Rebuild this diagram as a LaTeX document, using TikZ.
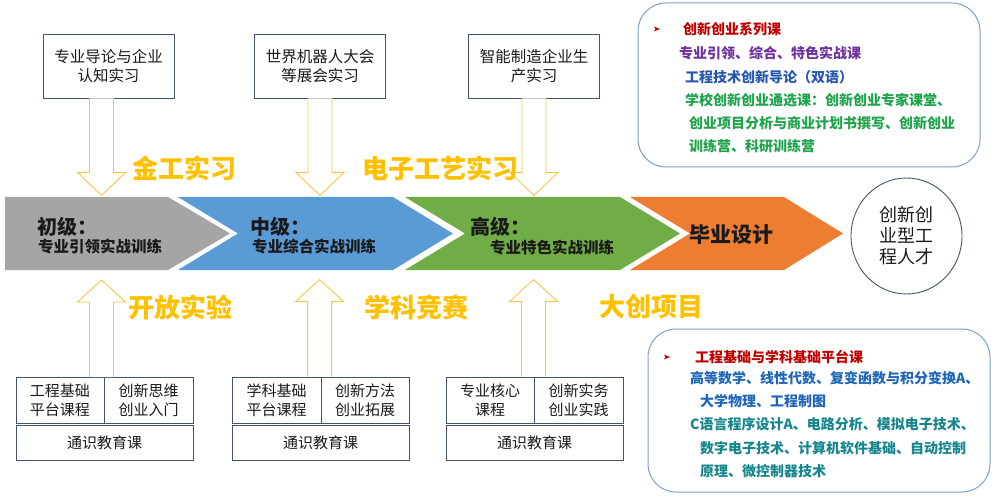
\documentclass[tikz,border=0pt]{standalone}
\usepackage{fontspec}
\setmainfont{Noto Sans CJK SC}
\usetikzlibrary{calc,shapes.geometric}
\definecolor{gold}{HTML}{FFC000}
\definecolor{arrowgold}{HTML}{F2C84B}
\definecolor{boxline}{HTML}{44546A}
\definecolor{rbline}{HTML}{7F9FC6}
\definecolor{cgray}{HTML}{A5A5A5}
\definecolor{cblue}{HTML}{5B9BD5}
\definecolor{cgreen}{HTML}{70AD47}
\definecolor{corange}{HTML}{ED7D31}
\definecolor{dred}{HTML}{C00000}
\definecolor{purp}{HTML}{7030A0}
\definecolor{tblue}{HTML}{2457B0}
\definecolor{tgreen}{HTML}{1FA34A}
\definecolor{bblue}{HTML}{1F66B8}
\definecolor{teal}{HTML}{16868E}
\definecolor{txt}{HTML}{1A1A1A}
\tikzset{
  tbox/.style={draw=boxline, line width=0.9pt, fill=white, minimum width=131pt, minimum height=64pt,
    align=center, inner sep=0pt, text=txt, font=\fontsize{15.5}{19}\selectfont},
  cell/.style={draw=boxline, line width=0.9pt, fill=white, minimum height=46pt,
    align=center, inner sep=0pt, text=txt, font=\fontsize{15}{19}\selectfont},
  gcell/.style={draw=boxline, line width=0.9pt, fill=white, minimum height=35pt, minimum width=177pt,
    align=center, inner sep=0pt, text=txt, font=\fontsize{15}{19}\selectfont},
  barrow/.style={draw=arrowgold, line width=0.9pt, fill=white, line join=miter},
  goldlbl/.style={text=gold, inner sep=0pt, font=\fontsize{26}{30}\selectfont\bfseries},
  lvl/.style={anchor=west, inner sep=0pt, text=txt, font=\fontsize{20}{24}\selectfont\bfseries},
  lvlsub/.style={anchor=west, inner sep=0pt, text=txt, font=\fontsize{15.5}{19}\selectfont\bfseries},
  rbox/.style={draw=rbline, line width=1pt, rounded corners=28pt, fill=white, inner sep=0pt},
  rline/.style={anchor=west, inner sep=0pt, font=\fontsize{14}{17}\selectfont\bfseries},
  bullet/.style={fill=dred, draw=none},
}
\begin{document}
\begin{tikzpicture}[x=1pt,y=-1pt]
\useasboundingbox (0,0) rectangle (997,500);

% chevrons
\fill[cgray] (5,197) -- (168,197) -- (230,233.5) -- (168,270) -- (5,270) -- cycle;
\fill[cblue] (178,197) -- (393,197) -- (453,233.5) -- (393,270) -- (178,270) -- (238,233.5) -- cycle;
\fill[cgreen] (405,197) -- (620,197) -- (680,233.5) -- (620,270) -- (405,270) -- (465,233.5) -- cycle;
\fill[corange] (630,197) -- (784,197) -- (843,233.5) -- (784,270) -- (630,270) -- (690,233.5) -- cycle;

\node[lvl] (l1) at (37,227) {初级：};
\node[lvlsub] (l1s) at (38,247) {专业引领实战训练};
\node[lvl] (l2) at (250,227) {中级：};
\node[lvlsub] (l2s) at (252,247) {专业综合实战训练};
\node[lvl] (l3) at (470,227) {高级：};
\node[lvlsub] (l3s) at (490,248) {专业特色实战训练};
\node[inner sep=0pt, text=txt, font=\fontsize{21}{25}\selectfont\bfseries] (l4) at (731,235) {毕业设计};

% goal ellipse
\node[ellipse, draw=boxline, line width=0.9pt, minimum width=111pt, minimum height=116pt,
  align=center, inner sep=0pt, text=txt, font=\fontsize{18}{21}\selectfont] (goal) at (906.5,236) {创新创\\业型工\\程人才};

% top boxes
\node[tbox] (t1) at (108.5,66) {专业导论与企业\\认知实习};
\node[tbox] (t2) at (320,66) {世界机器人大会\\等展会实习};
\node[tbox] (t3) at (534,66) {智能制造企业生\\产实习};

% top arrows
\draw[barrow] ($(t1.south)+(-19,0)$) -- ++(0,74) -- ++(-12,0) -- ++(24,23) -- ++(24,-23) -- ++(-12,0) -- ++(0,-74);
\draw[barrow] ($(t2.south)+(-12,0)$) -- ++(0,74) -- ++(-12,0) -- ++(24,23) -- ++(24,-23) -- ++(-12,0) -- ++(0,-74);
\draw[barrow] ($(t3.south)+(-12,0)$) -- ++(0,74) -- ++(-12,0) -- ++(24,23) -- ++(24,-23) -- ++(-12,0) -- ++(0,-74);

% gold labels
\node[goldlbl] (g1) at (184.5,168) {金工实习};
\node[goldlbl] (g2) at (440,168) {电子工艺实习};
\node[goldlbl] (g3) at (180.5,307) {开放实验};
\node[goldlbl] (g4) at (416.5,307) {学科竞赛};
\node[goldlbl] (g5) at (651.5,307) {大创项目};

% bottom boxes
\node[cell, minimum width=88pt] (b1a) at (60,400) {工程基础\\平台课程};
\node[cell, minimum width=89pt] (b1b) at (148.5,400) {创新思维\\创业入门};
\node[gcell] (b1c) at (104.5,442.5) {通识教育课};
\node[cell, minimum width=89pt] (b2a) at (276.5,400) {学科基础\\平台课程};
\node[cell, minimum width=88pt] (b2b) at (365,400) {创新方法\\创业拓展};
\node[gcell] (b2c) at (320.5,442.5) {通识教育课};
\node[cell, minimum width=88pt] (b3a) at (490,400) {专业核心\\课程};
\node[cell, minimum width=89pt] (b3b) at (578.5,400) {创新实务\\创业实践};
\node[gcell] (b3c) at (534.5,442.5) {通识教育课};

% bottom arrows
\coordinate (a1) at (b1a.north east -| 89.5,0);
\draw[barrow] (89.5,377) -- (89.5,302) -- ++(-12,0) -- ++(24,-22) -- ++(24,22) -- ++(-12,0) -- (113.5,377);
\draw[barrow] ($(b2b.north west)+(-13,0)$) -- ++(0,-75) -- ++(-12,0) -- ++(24,-22) -- ++(24,22) -- ++(-12,0) -- ++(0,75);
\draw[barrow] ($(b3b.north west)+(-12,0)$) -- ++(0,-75) -- ++(-12,0) -- ++(24,-22) -- ++(24,22) -- ++(-12,0) -- ++(0,75);

% rounded box 1
\node[rbox, minimum width=342pt, minimum height=164pt] (rb1) at (809,85) {};
\fill[bullet] (654,26.5) -- (660,29) -- (654,31.5) -- (655.5,29) -- cycle;
\node[rline, text=dred] (r11) at (683,29) {创新创业系列课};
\node[rline, text=purp] (r12) at (679,53) {专业引领、综合、特色实战课};
\node[rline, text=tblue] (r13) at (685,77) {工程技术创新导论（双语）};
\node[rline, text=tgreen] (r14) at (685,100) {学校创新创业通选课：创新创业专家课堂、};
\node[rline, text=tgreen] (r15) at (689,123) {创业项目分析与商业计划书撰写、创新创业};
\node[rline, text=tgreen] (r16) at (689,146) {训练营、科研训练营};

% rounded box 2
\node[rbox, minimum width=342pt, minimum height=163pt] (rb2) at (819,410.5) {};
\fill[bullet] (664,354.5) -- (670,357) -- (664,359.5) -- (665.5,357) -- cycle;
\node[rline, text=dred] (r21) at (695,357) {工程基础与学科基础平台课};
\node[rline, text=bblue] (r22) at (690,378) {高等数学、线性代数、复变函数与积分变换A、};
\node[rline, text=bblue] (r23) at (700,401) {大学物理、工程制图};
\node[rline, text=teal] (r24) at (690,424) {C语言程序设计A、电路分析、模拟电子技术、};
\node[rline, text=teal] (r25) at (700,448) {数字电子技术、计算机软件基础、自动控制};
\node[rline, text=teal] (r26) at (700,471) {原理、微控制器技术};
\end{tikzpicture}
\end{document}
